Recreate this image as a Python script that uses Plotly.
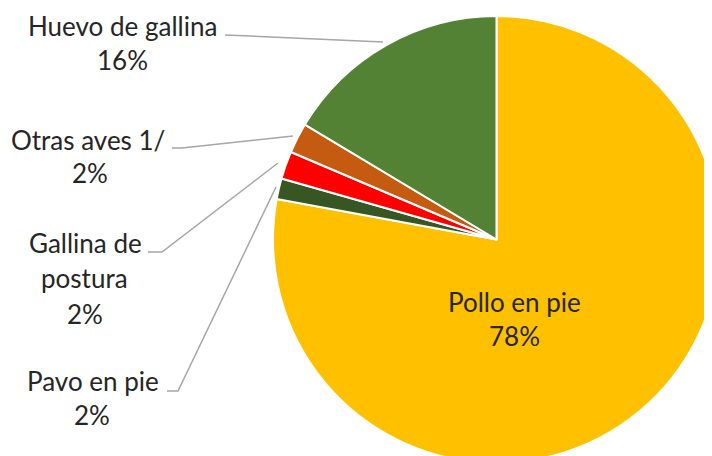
import plotly.graph_objects as go

# ---- data ----
labels = ["Pollo en pie", "Pavo en pie", "Gallina de postura", "Otras aves 1/", "Huevo de gallina"]
values = [77.9, 1.5, 2.0, 2.2, 16.4]
colors = ["#FFC000", "#375623", "#FF0000", "#C55A11", "#548235"]
label_lines = [
    ["Pollo en pie"],
    ["Pavo en pie"],
    ["Gallina de", "postura"],
    ["Otras aves 1/"],
    ["Huevo de gallina"],
]

# ---- layout helpers (pixel positions in the visible window) ----
W, H = 712, 456
OFF = 8  # page offset of the figure inside the window
line_pos = [
    [(514, 302), (514, 336)],
    [(93, 381), (92, 415)],
    [(85, 243), (84, 278), (85, 314)],
    [(88, 140), (90, 173)],
    [(122, 26), (122, 60)],
]
leaders = [
    None,
    [(167, 391), (178, 391), (276, 187)],
    [(148, 252), (162, 252), (278, 163)],
    [(172, 148), (182, 148), (293, 136)],
    [(225, 35), (383, 42)],
]


def px(x):
    return (x - OFF) / W


def py(y):
    return 1 - (y - OFF) / H


total = sum(values)
pcts = [f"{round(v / total * 100)}%" for v in values]

fig = go.Figure(go.Pie(
    labels=labels,
    values=values,
    sort=False,
    direction="clockwise",
    rotation=0,
    marker=dict(colors=colors, line=dict(color="white", width=2)),
    textinfo="none",
    hoverinfo="label+percent",
    domain=dict(x=[265 / W, 1], y=[1 - 455 / H, 1 - 8 / H]),
    showlegend=False,
))

annotations = []
shapes = []
font = dict(family="Lato", size=26, color="#262626")
for lines, pct, pos, lead in zip(label_lines, pcts, line_pos, leaders):
    texts = lines + [pct]
    for t, (x, y) in zip(texts, pos):
        annotations.append(dict(
            x=px(x), y=py(y), xref="paper", yref="paper",
            text=t, showarrow=False, xanchor="center", yanchor="middle",
            font=font,
        ))
    if lead:
        path = "M " + " L ".join(f"{px(a)},{py(b)}" for a, b in lead)
        shapes.append(dict(type="path", xref="paper", yref="paper", path=path,
                           line=dict(color="#A6A6A6", width=1.5)))

fig.update_layout(
    width=W, height=H,
    margin=dict(l=0, r=0, t=0, b=0),
    paper_bgcolor="white",
    plot_bgcolor="white",
    annotations=annotations,
    shapes=shapes,
)

fig.write_html("out.html")
